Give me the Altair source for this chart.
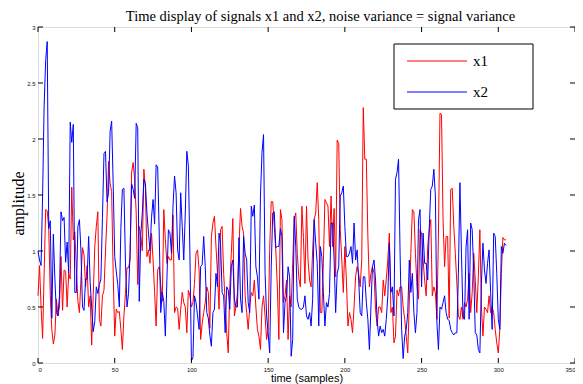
import altair as alt
import pandas as pd

# ---- data ----
x1 = [
    0.6, 0.87, 0.5, 0.22, 0.8, 1.37, 1.36, 1.2, 0.6, 0.3,
    0.17, 0.25, 0.57, 0.42, 0.5, 0.95, 0.47, 0.83, 0.82, 0.5,
    0.8, 0.75, 1.57, 1.1, 1.17, 0.85, 0.55, 0.45, 0.75, 1.03,
    0.97, 0.68, 0.87, 0.5, 0.6, 0.16, 0.6, 1.04, 1.22, 1.35,
    0.39, 0.33, 0.6, 0.65, 1.0, 1.31, 1.8, 1.6, 1.53, 0.8,
    0.24, 0.48, 0.45, 0.46, 0.3, 0.12, 0.42, 0.62, 0.85, 0.85,
    0.92, 1.7, 1.79, 1.64, 1.34, 0.7, 1.22, 1.13, 1.0, 1.73,
    1.56, 0.95, 1.01, 0.89, 1.16, 0.92, 0.63, 0.33, 0.83, 0.86,
    0.7, 0.55, 1.37, 1.1, 0.89, 0.95, 0.92, 0.92, 1.32, 0.45,
    0.5, 0.49, 0.3, 0.48, 0.63, 0.54, 0.5, 0.27, 0.65, 0.6,
    0.5, 0.54, 0.71, 0.98, 1.01, 0.83, 0.21, 0.35, 0.45, 0.54,
    0.68, 0.63, 0.31, 1.12, 1.25, 1.31, 1.04, 0.8, 0.48, 1.19,
    1.22, 0.8, 0.54, 0.27, 0.09, 0.68, 0.98, 1.29, 0.42, 0.5,
    0.63, 1.04, 1.38, 1.22, 1.16, 0.6, 0.45, 0.3, 0.5, 0.63,
    0.6, 0.74, 0.5, 0.3, 0.24, 0.12, 0.5, 0.6, 0.42, 0.21,
    0.3, 1.01, 1.44, 1.44, 1.22, 1.0, 0.68, 0.21, 1.37, 1.28,
    0.54, 0.6, 0.74, 0.21, 0.6, 0.5, 0.9, 1.28, 1.34, 0.98,
    0.76, 0.68, 1.4, 1.12, 0.71, 1.4, 0.92, 0.74, 0.68, 1.0,
    1.28, 1.34, 1.61, 1.28, 0.45, 0.45, 0.9, 1.46, 1.43, 1.4,
    1.04, 1.49, 1.04, 1.38, 0.77, 1.99, 1.96, 1.19, 0.92, 0.63,
    1.04, 0.74, 0.33, 0.45, 0.39, 0.27, 0.5, 0.77, 0.86, 0.8,
    0.68, 0.92, 2.28, 1.82, 1.82, 1.13, 0.68, 0.8, 0.86, 0.8,
    0.48, 0.33, 0.5, 0.5, 0.45, 0.74, 0.6, 0.75, 0.92, 1.16,
    0.45, 0.5, 0.18, 0.24, 0.65, 0.6, 0.68, 0.68, 0.5, 0.39,
    0.24, 0.09, 0.54, 0.98, 1.37, 1.35, 0.98, 0.68, 0.57, 1.19,
    1.16, 0.92, 0.74, 0.6, 1.04, 1.19, 1.28, 0.6, 0.68, 0.63,
    0.39, 1.16, 2.23, 2.22, 1.28, 0.86, 1.13, 1.13, 0.4, 1.55,
    1.56, 1.22, 0.98, 0.71, 0.42, 0.39, 0.5, 0.39, 0.54, 0.5,
    0.57, 0.8, 0.45, 0.63, 0.98, 0.74, 0.45, 0.77, 1.19, 0.5,
    0.24, 0.5, 0.48, 0.45, 0.6, 0.45, 0.5, 0.45, 0.3, 0.18,
    0.09, 0.3, 0.8, 1.12, 1.1, 1.1,
]

x2 = [
    1.0, 0.92, 0.87, 1.5, 2.3, 2.7, 2.87, 1.2, 1.27, 0.4,
    1.15, 0.75, 0.45, 0.42, 0.6, 1.35, 1.27, 1.3, 0.9, 1.08,
    0.8, 2.15, 1.97, 2.13, 0.63, 0.63, 1.22, 1.28, 1.0, 0.5,
    0.47, 0.75, 0.75, 1.13, 0.72, 0.5, 0.28, 0.37, 0.68, 0.62,
    0.7, 0.75, 1.3, 1.87, 1.89, 1.44, 1.52, 2.07, 2.16, 1.6,
    0.95, 0.82, 0.7, 0.5, 1.2, 1.55, 1.56, 0.9, 0.5, 0.62,
    0.98, 1.6, 1.55, 1.47, 2.14, 2.1, 0.55, 1.15, 1.34, 1.64,
    1.6, 1.34, 1.16, 1.0, 1.3, 1.46, 1.24, 1.77, 1.75, 1.16,
    0.45, 0.63, 0.55, 0.24, 0.74, 1.19, 1.16, 0.98, 1.4, 1.67,
    1.52, 1.01, 0.92, 1.52, 1.22, 0.92, 1.34, 1.89, 1.76, 0.98,
    0.02, 0.05, 0.6, 0.54, 0.42, 0.3, 0.86, 0.88, 1.13, 0.86,
    0.45, 0.4, 0.25, 0.15, 0.45, 0.48, 0.8, 0.68, 1.16, 1.06,
    0.63, 0.6, 0.27, 0.68, 0.65, 0.48, 0.86, 0.92, 0.57, 0.5,
    0.5, 1.12, 0.57, 0.45, 1.13, 0.98, 0.92, 0.54, 0.45, 1.4,
    1.31, 1.41, 0.86, 0.77, 0.57, 1.5, 1.88, 2.04, 0.8, 0.42,
    0.27, 0.09, 0.85, 1.34, 1.35, 1.03, 1.04, 1.04, 1.2, 1.13,
    0.27, 0.54, 0.6, 0.86, 0.77, 0.06, 0.21, 1.31, 1.04, 0.57,
    0.5, 0.48, 0.48, 0.5, 0.6, 0.42, 0.39, 0.45, 0.33, 0.57,
    1.28, 1.07, 0.89, 0.33, 1.04, 0.95, 0.63, 0.33, 0.54, 0.5,
    0.62, 1.25, 1.25, 0.92, 0.45, 0.8, 0.86, 1.49, 1.52, 1.58,
    1.22, 0.95, 0.95, 0.98, 1.04, 0.89, 1.25, 0.92, 1.01, 0.74,
    0.45, 0.42, 0.77, 0.77, 0.54, 0.39, 0.12, 0.5, 0.86, 0.92,
    0.74, 0.39, 0.24, 0.33, 0.27, 0.3, 0.24, 0.39, 0.6, 1.07,
    0.63, 0.68, 0.42, 1.64, 1.7, 1.82, 0.98, 0.3, 0.04, 0.24,
    0.3, 0.45, 0.92, 0.63, 0.8, 0.45, 0.27, 0.45, 1.28, 1.37,
    0.68, 1.16, 0.89, 0.89, 0.74, 1.2, 1.55, 1.58, 1.73, 1.49,
    0.36, 0.12, 0.5, 0.48, 0.54, 0.6, 0.45, 0.39, 0.38, 0.3,
    0.27, 0.25, 0.27, 0.27, 0.8, 1.61, 0.98, 0.42, 0.39, 1.04,
    1.19, 0.39, 1.25, 1.19, 0.8, 0.27, 0.25, 0.12, 0.09, 0.71,
    1.07, 0.83, 0.71, 0.89, 1.01, 0.63, 0.3, 1.16, 1.13, 0.8,
    0.39, 0.3, 1.04, 0.98, 1.07, 1.05,
]

series_names = ["x1", "x2"]
series_colors = ["#ff0000", "#0000ff"]
x_ticks = [0, 50, 100, 150, 200, 250, 300, 350]
y_ticks = [0, 0.5, 1, 1.5, 2, 2.5, 3]

title_text = "Time display of signals x1 and x2, noise variance = signal variance"
x_title = "time (samples)"
y_title = "amplitude"

# ---- build tables ----
n1, n2 = len(x1), len(x2)
df = pd.DataFrame({
    "sample": list(range(n1)) + list(range(n2)),
    "amplitude": x1 + x2,
    "series": [series_names[0]] * n1 + [series_names[1]] * n2,
})
xt_df = pd.DataFrame({"sample": x_ticks})
yt_df = pd.DataFrame({"amplitude": y_ticks})

W, H = 537, 336
TL = 5  # inner tick length

xs = alt.Scale(domain=[0, 350], nice=False, zero=False)
ys = alt.Scale(domain=[0, 3], nice=False, zero=False)
cscale = alt.Scale(domain=series_names, range=series_colors)

x_axis = alt.Axis(
    values=x_ticks, ticks=False, domain=False, grid=False,
    labelFont="Liberation Sans", labelFontSize=6, labelColor="#111",
    labelPadding=3, labelFlush=True,
    titleFont="Liberation Sans", titleFontSize=11,
    titleFontWeight="normal", titleColor="#000",
    titleX=W / 2, titleY=15, titleBaseline="middle", titleAlign="center")
y_axis = alt.Axis(
    values=y_ticks, format="~g", ticks=False, domain=False, grid=False,
    labelFont="Liberation Sans", labelFontSize=6, labelColor="#111",
    labelPadding=3, labelFlush=False,
    titleFont="Liberation Serif", titleFontSize=16,
    titleFontWeight="normal", titleColor="#000",
    titleX=-20, titleY=H / 2 + 8, titleAngle=270,
    titleBaseline="middle", titleAlign="center")

X = alt.X("sample:Q", scale=xs, axis=x_axis, title=x_title)
Y = alt.Y("amplitude:Q", scale=ys, axis=y_axis, title=y_title)

lines = alt.Chart(df).mark_line(strokeWidth=1).encode(
    x=X, y=Y,
    color=alt.Color("series:N", scale=cscale, legend=None),
)

tick_style = dict(color="black", strokeWidth=1)
bottom_ticks = alt.Chart(xt_df).mark_rule(**tick_style).encode(
    x=X, y=alt.value(H), y2=alt.value(H - TL))
top_ticks = alt.Chart(xt_df).mark_rule(**tick_style).encode(
    x=X, y=alt.value(0), y2=alt.value(TL))
left_ticks = alt.Chart(yt_df).mark_rule(**tick_style).encode(
    y=Y, x=alt.value(0), x2=alt.value(TL))
right_ticks = alt.Chart(yt_df).mark_rule(**tick_style).encode(
    y=Y, x=alt.value(W - TL), x2=alt.value(W))

# ---- legend (MATLAB style box) ----
one = pd.DataFrame({"a": [0]})
legend_box = alt.Chart(one).mark_rect(fill="white", stroke="black", strokeWidth=1).encode(
    x=alt.value(356), x2=alt.value(495), y=alt.value(17), y2=alt.value(82))

legend_layers = [legend_box]
for i, name in enumerate(series_names):
    ly = 34 + 31 * i
    d = pd.DataFrame({"series": [name]})
    legend_layers.append(
        alt.Chart(d).mark_rule(strokeWidth=1).encode(
            x=alt.value(369), x2=alt.value(429), y=alt.value(ly),
            color=alt.Color("series:N", scale=cscale, legend=None)))
    legend_layers.append(
        alt.Chart(d).mark_text(font="Liberation Serif", fontSize=15, align="left",
                               baseline="middle", color="black").encode(
            x=alt.value(435), y=alt.value(ly), text="series:N"))

chart = alt.layer(
    lines, bottom_ticks, top_ticks, left_ticks, right_ticks, *legend_layers
).properties(
    width=W, height=H,
    title=alt.Title(title_text, font="Liberation Serif", fontSize=14.5,
                    fontWeight="normal", color="#000", anchor="middle",
                    dx=14, offset=0),
    autosize=alt.AutoSizeParams(type="none"),
    padding={"left": 30, "top": 19, "right": 0, "bottom": 21},
).configure_view(
    stroke="black", strokeWidth=1.5
).configure(background="white")

chart.save("out.html", embed_options={"renderer": "svg", "actions": False})
